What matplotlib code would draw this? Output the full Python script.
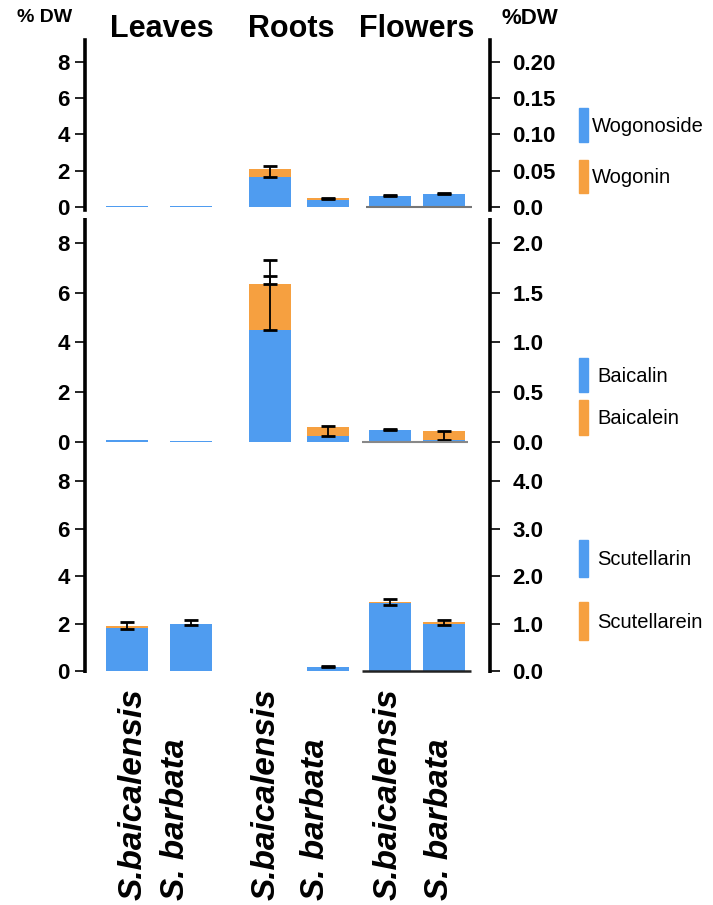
import matplotlib
matplotlib.use("Agg")
import matplotlib.pyplot as plt
from matplotlib.patches import Rectangle
from matplotlib.lines import Line2D
import numpy as np

plt.rcParams['font.family'] = ['Liberation Sans', 'DejaVu Sans']

# ---------------- data ----------------
tissues = ["Leaves", "Roots", "Flowers"]
species_labels = ["S.baicalensis", "S. barbata", "S.baicalensis", "S. barbata",
                  "S.baicalensis", "S. barbata"]

# top panel (% DW)
wogonoside = [0.05, 0.05, 1.67, 0.40, 0.60, 0.72]
wogonin = [0.00, 0.00, 0.45, 0.08, 0.02, 0.02]
wog_err_low = [0.00, 0.00, 0.45, 0.05, 0.02, 0.02]
wog_err_up = [0.00, 0.00, 0.12, 0.03, 0.02, 0.03]

# middle panel
baicalin = [0.08, 0.06, 4.50, 0.25, 0.50, 0.10]
baicalein = [0.00, 0.00, 1.85, 0.37, 0.00, 0.33]
baic_err_low = [0.00, 0.00, 1.85, 0.37, 0.03, 0.33]
baic_err_up = [0.00, 0.00, 0.96, 0.02, 0.03, 0.00]
baic_err_up2 = [0.00, 0.00, 0.32, 0.00, 0.00, 0.00]

# bottom panel
scutellarin = [1.80, 1.97, 0.02, 0.17, 2.85, 2.00]
scutellarein = [0.08, 0.00, 0.00, 0.00, 0.05, 0.05]
scut_err_low = [0.10, 0.05, 0.00, 0.02, 0.10, 0.10]
scut_err_up = [0.17, 0.17, 0.00, 0.02, 0.12, 0.08]

left_ticks = [0, 2, 4, 6, 8]
right_ticks_top = [0.0, 0.05, 0.10, 0.15, 0.20]
right_labels_top = ["0.0", "0.05", "0.10", "0.15", "0.20"]
right_ticks_mid = [0.0, 0.5, 1.0, 1.5, 2.0]
right_labels_mid = ["0.0", "0.5", "1.0", "1.5", "2.0"]
right_ticks_bot = [0.0, 1.0, 2.0, 3.0, 4.0]
right_labels_bot = ["0.0", "1.0", "2.0", "3.0", "4.0"]

legend_top = ["Wogonoside", "Wogonin"]
legend_mid = ["Baicalin", "Baicalein"]
legend_bot = ["Scutellarin", "Scutellarein"]

BLUE = "#4f9cf0"
ORANGE = "#f6a040"

# ---------------- layout ----------------
W, H = 713, 905
fig = plt.figure(figsize=(W / 100, H / 100), dpi=100)

def fy(p):
    return 1 - p / H

XL, XR = 85, 490
pos = np.array([0.0, 1.07, 2.38, 3.35, 4.38, 5.28])
bw = 0.70
xlim = (-0.70, 6.05)

def make_ax(top_px, bot_px, zero_px, scale, rticks, rlabels, factor, own_spines):
    ax = fig.add_axes([XL / W, fy(bot_px), (XR - XL) / W, (bot_px - top_px) / H])
    ylim = (-(bot_px - zero_px) / scale, (zero_px - top_px) / scale)
    ax.set_xlim(*xlim)
    ax.set_ylim(*ylim)
    ax.set_facecolor("none")
    for s in ["top", "bottom"]:
        ax.spines[s].set_visible(False)
    for s in ["left", "right"]:
        ax.spines[s].set_linewidth(2.6)
        ax.spines[s].set_visible(own_spines)
    ax.set_xticks([])
    ax.set_yticks(left_ticks)
    ax.set_yticklabels([str(t) for t in left_ticks], fontsize=16, fontweight="bold")
    ax.tick_params(axis="y", direction="out", length=7, width=1.2, pad=4)
    ax2 = ax.twinx()
    ax2.set_ylim(ylim[0] * factor, ylim[1] * factor)
    ax2.set_yticks(rticks)
    ax2.set_yticklabels(rlabels, fontsize=16, fontweight="bold")
    ax2.tick_params(axis="y", direction="out", length=7, width=1.2, pad=9)
    for s in ["top", "bottom", "left", "right"]:
        ax2.spines[s].set_visible(False)
    return ax

def draw(ax, a, b, elow, eup):
    a = np.array(a); b = np.array(b)
    ax.bar(pos, a, bw, color=BLUE, zorder=2)
    ax.bar(pos, b, bw, bottom=a, color=ORANGE, zorder=2)
    tot = a + b
    m = (np.array(elow) + np.array(eup)) > 0
    ax.errorbar(pos[m], tot[m], yerr=[np.array(elow)[m], np.array(eup)[m]],
                fmt="none", ecolor="black", elinewidth=1.3, capsize=5,
                capthick=2, zorder=3)
    return tot

# top panel: 0 at 207px, 8 at 62px
ax_t = make_ax(40, 210, 207, (207 - 62) / 8, right_ticks_top, right_labels_top, 0.025, True)
draw(ax_t, wogonoside, wogonin, wog_err_low, wog_err_up)
ax_t.hlines(0, pos[4] - bw / 2 - 0.05, pos[5] + bw / 2 + 0.12, color="#777777", lw=1.5, zorder=4)

# middle panel: 0 at 442px, 8 at 243px
ax_m = make_ax(218, 458, 442, (442 - 243) / 8, right_ticks_mid, right_labels_mid, 0.25, False)
tot_m = draw(ax_m, baicalin, baicalein, baic_err_low, baic_err_up)
e2 = np.array(baic_err_up2)
mm = e2 > 0
ax_m.errorbar(pos[mm], tot_m[mm], yerr=[np.zeros(mm.sum()), e2[mm]], fmt="none",
              ecolor="black", elinewidth=1.3, capsize=5, capthick=2, zorder=3)
ax_m.hlines(0, pos[4] - bw / 2 - 0.12, pos[5] + bw / 2 + 0.05, color="#888888", lw=1.5, zorder=4)

# bottom panel: 0 at 671px, 8 at 481px
ax_b = make_ax(458, 673, 671, (671 - 481) / 8, right_ticks_bot, right_labels_bot, 0.5, False)
draw(ax_b, scutellarin, scutellarein, scut_err_low, scut_err_up)
ax_b.hlines(0, pos[4] - bw / 2 - 0.12, pos[5] + bw / 2 + 0.1, color="#222222", lw=1.8, zorder=4)

# continuous axis lines for the middle and bottom panels
for xp in (XL, XR):
    fig.add_artist(Line2D([xp / W, xp / W], [fy(218), fy(673)], color="black",
                          lw=2.6, solid_capstyle="butt", transform=fig.transFigure))

# headers
fig.text(45 / W, fy(17), "% DW", ha="center", va="center", fontsize=14, fontweight="bold")
fig.text(530 / W, fy(19), "%DW", ha="center", va="center", fontsize=16, fontweight="bold")
for t, xp in zip(tissues, [162, 291, 417]):
    fig.text(xp / W, fy(37), t, ha="center", va="baseline", fontsize=22, fontweight="bold")

# species labels
for lab, xp in zip(species_labels, [133, 176, 266, 316, 388, 440]):
    fig.text(xp / W, fy(900), lab, rotation=90, ha="center", va="bottom",
             fontsize=24, fontweight="bold", fontstyle="italic")

# legends
def legend(names, boxes, tx):
    for n, (y0, y1), c in zip(names, boxes, [BLUE, ORANGE]):
        fig.patches.append(Rectangle((579 / W, fy(y1)), 9 / W, (y1 - y0) / H,
                                     transform=fig.transFigure, color=c))
        fig.text(tx / W, fy((y0 + y1) / 2 + 1), n, ha="left", va="center",
                 fontsize=14.5)

legend(legend_top, [(108, 142), (160, 193)], 592)
legend(legend_mid, [(358, 392), (400, 435)], 597)
legend(legend_bot, [(540, 577), (602, 640)], 597)

fig.savefig("out.png", dpi=100)
